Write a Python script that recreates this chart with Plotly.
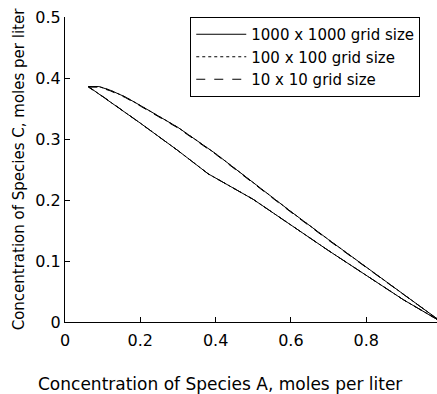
import plotly.graph_objects as go

# Concentration of Species A (x) and C (y) along the closed trajectory
# (upper branch from the start point down to A=1, then lower branch back)
a_1000 = [0.062, 0.09, 0.12, 0.16, 0.20, 0.30, 0.40, 0.50, 0.60, 0.70, 0.80, 0.90, 1.00,
          0.90, 0.80, 0.70, 0.60, 0.50, 0.38, 0.30, 0.20, 0.10, 0.062]
c_1000 = [0.386, 0.386, 0.380, 0.369, 0.355, 0.319, 0.276, 0.228, 0.181, 0.135, 0.090, 0.045, 0.000,
          0.036, 0.076, 0.117, 0.159, 0.201, 0.243, 0.281, 0.326, 0.370, 0.386]

a_100 = [0.062, 0.09, 0.12, 0.16, 0.20, 0.30, 0.40, 0.50, 0.60, 0.70, 0.80, 0.90, 1.00,
         0.90, 0.80, 0.70, 0.60, 0.50, 0.38, 0.30, 0.20, 0.10, 0.062]
c_100 = [0.386, 0.386, 0.380, 0.369, 0.355, 0.319, 0.276, 0.228, 0.181, 0.135, 0.090, 0.045, 0.000,
         0.036, 0.076, 0.117, 0.159, 0.201, 0.243, 0.281, 0.326, 0.370, 0.386]

a_10 = [0.062, 0.09, 0.12, 0.16, 0.20, 0.30, 0.40, 0.50, 0.60, 0.70, 0.80, 0.90, 1.00,
        0.90, 0.80, 0.70, 0.60, 0.50, 0.38, 0.30, 0.20, 0.10, 0.062]
c_10 = [0.385, 0.385, 0.379, 0.368, 0.354, 0.318, 0.275, 0.227, 0.180, 0.134, 0.089, 0.045, 0.000,
        0.036, 0.076, 0.117, 0.159, 0.201, 0.243, 0.281, 0.326, 0.370, 0.385]

names = ["1000 x 1000 grid size", "100 x 100 grid size", "10 x 10 grid size"]
x_ticks = [0, 0.2, 0.4, 0.6, 0.8]
x_tick_text = ["0", "0.2", "0.4", "0.6", "0.8"]
y_ticks = [0, 0.1, 0.2, 0.3, 0.4, 0.5]
y_tick_text = ["0", "0.1", "0.2", "0.3", "0.4", "0.5"]
x_title = "Concentration of Species A, moles per liter"
y_title = "Concentration of Species C, moles per liter"

FONT = "DejaVu Sans, Liberation Sans, Arial, sans-serif"
FS = 16

fig = go.Figure()
fig.add_trace(go.Scatter(x=a_1000, y=c_1000, mode="lines", name=names[0],
                         line=dict(color="black", width=1, dash="solid")))
fig.add_trace(go.Scatter(x=a_100, y=c_100, mode="lines", name=names[1],
                         line=dict(color="black", width=1, dash="dot")))
fig.add_trace(go.Scatter(x=a_10, y=c_10, mode="lines", name=names[2],
                         line=dict(color="black", width=1, dash="dash")))

fig.update_layout(
    width=437, height=394,
    margin=dict(l=65, r=0, t=17, b=72),
    paper_bgcolor="white", plot_bgcolor="white",
    font=dict(family=FONT, size=FS, color="black"),
    showlegend=True,
    legend=dict(x=0.955, xanchor="right", y=1.0, yanchor="top",
                bordercolor="black", borderwidth=1, bgcolor="white",
                font=dict(family=FONT, size=15, color="black"),
                itemwidth=50, tracegroupgap=0),
    xaxis=dict(range=[0, 0.988], tickvals=x_ticks, ticktext=x_tick_text,
               ticks="inside", ticklen=5, tickcolor="black",
               showline=True, linecolor="black", linewidth=1,
               showgrid=False, zeroline=False, mirror=False,
               ticklabelstandoff=4,
               tickfont=dict(size=FS)),
    yaxis=dict(range=[0, 0.5], tickvals=y_ticks, ticktext=y_tick_text,
               ticks="inside", ticklen=5, tickcolor="black",
               showline=True, linecolor="black", linewidth=1,
               showgrid=False, zeroline=False, mirror=False,
               tickfont=dict(size=FS),
               title=dict(text=y_title, font=dict(size=15), standoff=7)),
    annotations=[dict(text=x_title, xref="paper", yref="paper",
                      x=(220 - 65) / 372, y=-62 / 305, xanchor="center", yanchor="middle",
                      showarrow=False, font=dict(family=FONT, size=17, color="black"))],
)

fig.write_html("out.html",
               config={"displayModeBar": False},
               post_script="document.body.style.margin='0';document.body.style.padding='0';")
